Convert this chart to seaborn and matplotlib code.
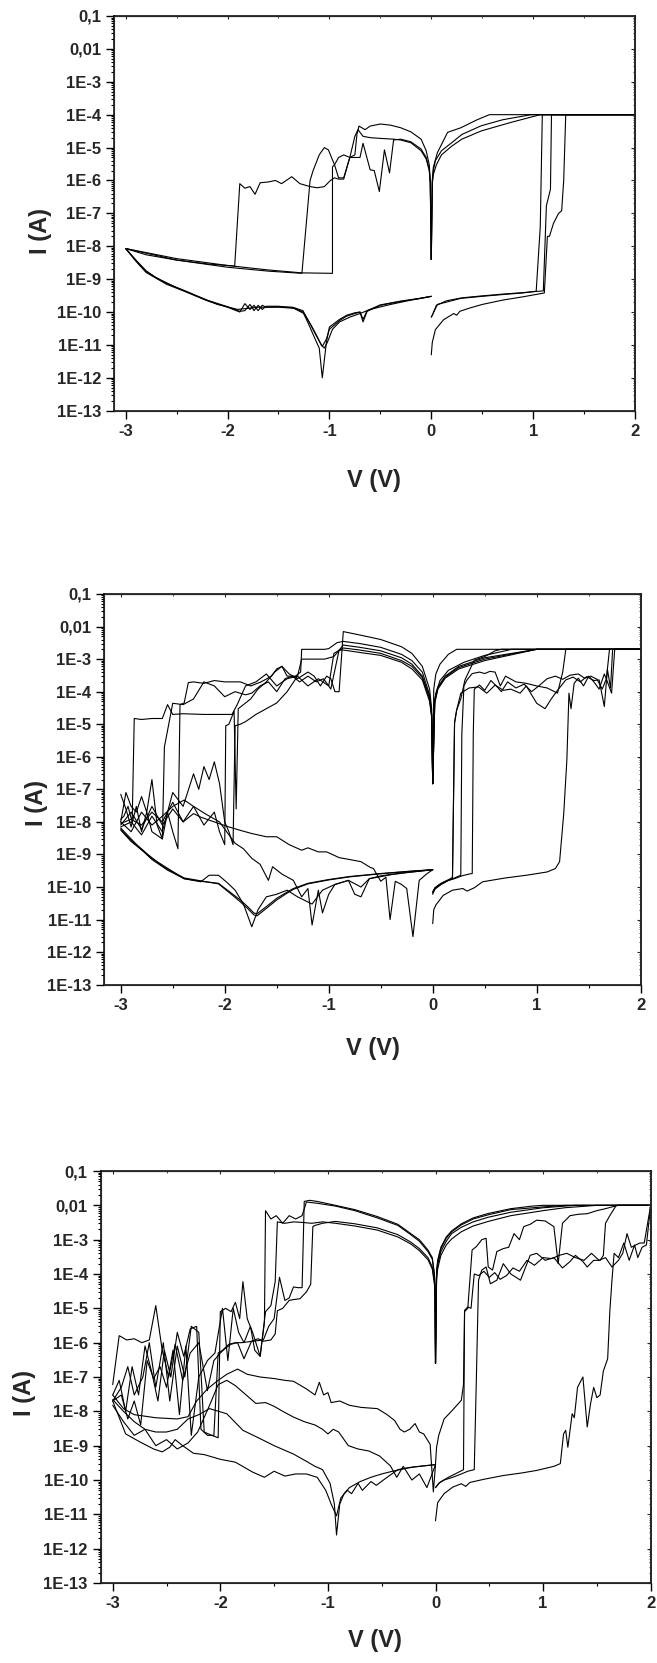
"""Semilog I-V switching sweeps for three devices, stacked vertically."""

import matplotlib
matplotlib.use('Agg')
import matplotlib.pyplot as plt
from matplotlib.ticker import LogLocator, NullFormatter
import seaborn as sns

# ---------------- panel 1 (compliance 1E-4) ----------------
p1_set1_v = [0.0, 0.01, 0.06, 0.29, 0.5, 0.7, 0.9, 1.03, 1.07, 1.09, 1.5, 2.0, 1.5, 1.0, 0.57, 0.45, 0.29, 0.16, 0.06, 0.02, 0.01, 0.0]
p1_set1_i = [7e-11, 8e-11, 1.7e-10, 2.6e-10, 3e-10, 3.4e-10, 3.8e-10, 4.3e-10, 4e-8, 1e-4, 1e-4, 1e-4, 1e-4, 1e-4, 1e-4, 7e-5, 4e-5, 2.9e-5, 7e-6, 2.5e-6, 1e-6, 4e-9]
p1_set2_v = [0.0, 0.01, 0.05, 0.15, 0.3, 0.5, 0.7, 0.9, 1.1, 1.13, 1.17, 1.18, 1.5, 2.0, 1.5, 0.98, 0.7, 0.49, 0.3, 0.2, 0.1, 0.04, 0.02, 0.01, 0.0]
p1_set2_i = [7e-11, 8e-11, 1.6e-10, 2.2e-10, 2.7e-10, 3.1e-10, 3.5e-10, 3.9e-10, 4.4e-10, 1.7e-7, 5.4e-7, 1e-4, 1e-4, 1e-4, 1e-4, 1e-4, 7e-5, 4.6e-5, 2.5e-5, 1.4e-5, 8e-6, 4e-6, 2e-6, 9e-7, 4e-9]
p1_set3_v = [0.0, 0.01, 0.04, 0.12, 0.22, 0.25, 0.28, 0.37, 0.5, 0.7, 0.9, 1.11, 1.14, 1.16, 1.2, 1.25, 1.28, 1.3, 1.32, 1.6, 2.0, 1.5, 1.07, 0.78, 0.49, 0.3, 0.2, 0.1, 0.05, 0.02, 0.01, 0.0]
p1_set3_i = [5e-12, 1.2e-11, 2.9e-11, 5.8e-11, 9e-11, 8e-11, 1.05e-10, 1.3e-10, 1.7e-10, 2.3e-10, 2.9e-10, 3.8e-10, 2e-8, 2e-8, 5e-8, 1e-7, 1.2e-7, 1e-6, 1e-4, 1e-4, 1e-4, 1e-4, 1e-4, 5.8e-5, 3.2e-5, 1.8e-5, 1.1e-5, 6e-6, 3e-6, 1.5e-6, 8e-7, 4e-9]

p1_reset1_v = [0.0, -0.01, -0.02, -0.05, -0.1, -0.2, -0.3, -0.4, -0.5, -0.6, -0.65, -0.71, -0.73, -0.75, -0.8, -0.86, -0.91, -0.95, -0.97, -0.97, -1.27, -1.6, -2.0, -2.5, -3.0]
p1_reset1_i = [4e-9, 1e-6, 3e-6, 8e-6, 1.8e-5, 3e-5, 4e-5, 4.8e-5, 5.2e-5, 4.5e-5, 3.5e-5, 4.5e-5, 2.5e-5, 6e-6, 5e-6, 6e-6, 5e-6, 3e-6, 2.6e-6, 1.5e-9, 1.55e-9, 1.9e-9, 2.6e-9, 4.2e-9, 8.5e-9]
p1_reset2_v = [0.0, -0.01, -0.02, -0.05, -0.1, -0.2, -0.3, -0.37, -0.41, -0.46, -0.51, -0.56, -0.6, -0.67, -0.7, -0.75, -0.8, -0.86, -0.91, -0.95, -1.01, -1.05, -1.1, -1.16, -1.19, -1.27, -1.6, -2.0, -2.5, -3.0]
p1_reset2_i = [4e-9, 9e-7, 2.2e-6, 5e-6, 9e-6, 1.5e-5, 1.8e-5, 1.7e-5, 1.7e-6, 8.5e-6, 4.6e-7, 2e-6, 2.1e-6, 1.35e-5, 5e-6, 5e-6, 5e-6, 1.2e-6, 1.2e-6, 3e-6, 8.5e-6, 1e-5, 6e-6, 2e-6, 1e-6, 1.5e-9, 1.75e-9, 2.3e-9, 3.8e-9, 8.5e-9]
p1_reset3_v = [0.0, -0.01, -0.02, -0.05, -0.1, -0.2, -0.3, -0.37, -0.5, -0.6, -0.67, -0.72, -0.75, -0.8, -0.86, -0.91, -0.95, -0.99, -1.05, -1.12, -1.19, -1.29, -1.37, -1.47, -1.53, -1.6, -1.68, -1.73, -1.78, -1.83, -1.88, -1.93, -2.2, -2.5, -2.8, -3.0]
p1_reset3_i = [4e-9, 8e-7, 2e-6, 4.5e-6, 8e-6, 1.4e-5, 1.7e-5, 1.8e-5, 1.9e-5, 2e-5, 2.2e-5, 3.5e-5, 2.2e-5, 5e-6, 1.1e-6, 1.1e-6, 1.2e-6, 1e-6, 6.5e-7, 6e-7, 6.5e-7, 8e-7, 1.3e-6, 8e-7, 1e-6, 9e-7, 8.5e-7, 3.8e-7, 6.5e-7, 5.8e-7, 8e-7, 2.5e-9, 2.9e-9, 3.8e-9, 5.5e-9, 8.5e-9]

p1_ret_v = [-3.0, -2.9, -2.8, -2.71, -2.6, -2.4, -2.2, -2.0, -1.88, -1.83, -1.78, -1.74, -1.7, -1.66, -1.62, -1.5, -1.36, -1.26, -1.2, -1.14, -1.1, -1.07, -1.03, -1.0, -0.9, -0.83, -0.75, -0.7, -0.67, -0.63, -0.5, -0.3, -0.1, 0.0]
p1_ret1_i = [8.5e-9, 3.5e-9, 1.6e-9, 1.1e-9, 7e-10, 4e-10, 2.2e-10, 1.4e-10, 1e-10, 1.8e-10, 1.2e-10, 1.6e-10, 1.1e-10, 1.6e-10, 1.4e-10, 1.45e-10, 1.4e-10, 1.1e-10, 5e-11, 2.2e-11, 1.3e-11, 9e-12, 1.5e-11, 3e-11, 5.5e-11, 7.5e-11, 9e-11, 1e-10, 5e-11, 1.05e-10, 1.6e-10, 2.1e-10, 2.6e-10, 3e-10]
p1_ret2_i = [8.5e-9, 3.7e-9, 1.7e-9, 1.15e-9, 7.5e-10, 4.2e-10, 2.3e-10, 1.45e-10, 1.05e-10, 1.1e-10, 1.7e-10, 1.1e-10, 1.6e-10, 1.2e-10, 1.5e-10, 1.5e-10, 1.35e-10, 1e-10, 4e-11, 1.5e-11, 8e-12, 1e-12, 1.2e-11, 3.5e-11, 6e-11, 8e-11, 9.5e-11, 1e-10, 6e-11, 1.1e-10, 1.65e-10, 2.15e-10, 2.65e-10, 3e-10]
p1_ret3_v = [-3.0, -2.9, -2.8, -2.7, -2.5, -2.3, -2.1, -1.9, -1.7, -1.5, -1.35, -1.25, -1.18, -1.12, -1.08, -1.05, -1.02, -0.97, -0.9, -0.8, -0.7, -0.6, -0.4, -0.2, 0.0]
p1_ret3_i = [8.5e-9, 3.8e-9, 1.8e-9, 1.1e-9, 5.5e-10, 3e-10, 1.7e-10, 1.2e-10, 1.4e-10, 1.4e-10, 1.3e-10, 9e-11, 4e-11, 1.8e-11, 1e-11, 8e-12, 1.2e-11, 3e-11, 5e-11, 7e-11, 9e-11, 1.2e-10, 1.7e-10, 2.3e-10, 3e-10]

# ---------------- panel 2 (compliance 2E-3) ----------------
p2_set1_v = [0.0, 0.01, 0.03, 0.1, 0.19, 0.29, 0.33, 0.4, 0.48, 0.7, 0.9, 1.1, 1.18, 1.22, 1.26, 1.29, 1.31, 1.33, 1.36, 1.4, 1.45, 1.5, 1.55, 1.6, 1.65, 1.68, 1.72, 1.75, 2.0, 1.5, 1.0, 0.76, 0.5, 0.3, 0.15, 0.07, 0.03, 0.01, 0.0]
p2_set1_i = [7.5e-12, 2e-11, 2.8e-11, 5.5e-11, 8e-11, 9e-11, 7.5e-11, 9.5e-11, 1.45e-10, 1.9e-10, 2.3e-10, 2.9e-10, 3.7e-10, 6e-10, 1.8e-8, 8e-7, 9e-5, 3e-5, 1.8e-4, 2.6e-4, 1.5e-4, 3e-4, 2e-4, 1.2e-4, 3.5e-4, 2e-4, 9e-5, 2e-3, 2e-3, 2e-3, 2e-3, 2e-3, 1.3e-3, 8e-4, 4.5e-4, 2.2e-4, 9e-5, 3e-5, 1.5e-7]
p2_set2_v = [0.0, 0.01, 0.05, 0.1, 0.17, 0.19, 0.21, 0.23, 0.27, 0.31, 0.4, 0.5, 0.6, 0.66, 1.0, 2.0, 1.0, 0.5, 0.23, 0.15, 0.07, 0.03, 0.01, 0.0]
p2_set2_i = [7e-11, 8e-11, 1.1e-10, 1.4e-10, 1.8e-10, 2e-10, 1.1e-5, 2.7e-5, 6e-5, 2.3e-4, 9.3e-4, 1.2e-3, 1.8e-3, 2e-3, 2e-3, 2e-3, 2e-3, 2e-3, 2e-3, 1.4e-3, 7e-4, 3.5e-4, 1.2e-4, 1.5e-7]
p2_set3_v = [0.0, 0.02, 0.08, 0.15, 0.19, 0.21, 0.23, 0.27, 0.35, 0.44, 0.52, 0.6, 0.68, 0.75, 0.84, 0.9, 1.0, 1.08, 1.14, 1.2, 1.28, 1.35, 1.42, 1.48, 1.55, 1.6, 1.65, 1.68, 1.71, 1.73, 2.0, 1.0, 0.5, 0.25, 0.12, 0.05, 0.02, 0.0]
p2_set3_i = [6.5e-11, 9e-11, 1.2e-10, 1.6e-10, 1.8e-10, 1.1e-5, 2.7e-5, 9e-5, 1.3e-4, 1.4e-4, 9e-5, 1.6e-4, 1.1e-4, 1.2e-4, 9e-5, 1.5e-4, 4.4e-5, 3e-5, 6e-5, 1.1e-4, 2.3e-4, 2.8e-4, 2e-4, 2.9e-4, 2.2e-4, 2.3e-4, 3.5e-5, 4.8e-4, 1.3e-4, 2e-3, 2e-3, 2e-3, 1.1e-3, 6e-4, 3e-4, 1.4e-4, 6e-5, 1.5e-7]
p2_set4_v = [0.0, 0.02, 0.08, 0.15, 0.21, 0.27, 0.28, 0.3, 0.33, 0.38, 0.45, 0.5, 0.55, 0.6, 0.65, 0.7, 0.8, 0.9, 1.0, 1.1, 1.2, 1.25, 1.28, 2.0, 1.0, 0.5, 0.25, 0.12, 0.05, 0.02, 0.0]
p2_set4_i = [7e-11, 9.5e-11, 1.3e-10, 1.6e-10, 1.9e-10, 2.3e-10, 5e-6, 1.5e-4, 2.3e-4, 3.6e-4, 4e-4, 3.6e-4, 4.2e-4, 4e-4, 1.5e-4, 3e-4, 2e-4, 1.8e-4, 1.5e-4, 1.3e-4, 9e-5, 4e-4, 2e-3, 2e-3, 2e-3, 1e-3, 5.5e-4, 2.8e-4, 1.3e-4, 5e-5, 1.5e-7]
p2_set5_v = [0.0, 0.02, 0.08, 0.15, 0.21, 0.28, 0.35, 0.38, 0.39, 0.4, 0.45, 0.5, 0.56, 0.62, 0.66, 0.72, 0.8, 0.88, 0.95, 1.02, 1.1, 1.18, 1.25, 1.32, 1.4, 1.46, 1.52, 1.58, 1.63, 1.67, 1.7, 2.0, 1.0, 0.5, 0.25, 0.12, 0.05, 0.02, 0.0]
p2_set5_i = [6e-11, 8.5e-11, 1.2e-10, 1.6e-10, 1.8e-10, 2.2e-10, 2.5e-10, 2.6e-10, 5e-6, 1.2e-4, 1.6e-4, 1.1e-4, 2.2e-4, 1.4e-4, 1e-4, 2e-4, 1.3e-4, 1.7e-4, 1e-4, 1.5e-4, 2.5e-4, 3e-4, 2.4e-4, 3.2e-4, 3.5e-4, 2.6e-4, 3e-4, 2.4e-4, 1.2e-4, 2.5e-4, 2e-3, 2e-3, 2e-3, 9e-4, 5e-4, 2.6e-4, 1.2e-4, 4.5e-5, 1.5e-7]

p2_reset1_v = [0.0, -0.01, -0.03, -0.1, -0.2, -0.3, -0.5, -0.7, -0.86, -0.9, -0.94, -0.98, -1.02, -1.08, -1.14, -1.2, -1.3, -1.38, -1.45, -1.52, -1.6, -1.68, -1.75, -1.82, -1.87, -1.89, -1.91, -1.96, -1.99, -2.0, -2.05, -2.1, -2.2, -2.3, -2.4, -2.5, -2.6, -2.7, -2.8, -2.9, -3.0]
p2_reset1_i = [1.5e-7, 3e-5, 1.2e-4, 6e-4, 1.5e-3, 2.4e-3, 4e-3, 5.5e-3, 7e-3, 1e-4, 1e-4, 2.5e-4, 3e-4, 1.5e-4, 3e-4, 4e-4, 2.5e-4, 3.5e-4, 6e-4, 4e-4, 2e-4, 1.2e-4, 6e-5, 4e-5, 3e-5, 2.5e-8, 2.5e-5, 1e-5, 9e-6, 2e-9, 5e-9, 2e-8, 8e-9, 3e-8, 1e-8, 4e-8, 1e-8, 2e-8, 8e-9, 1.2e-8, 9e-9]
p2_reset2_v = [0.0, -0.01, -0.03, -0.1, -0.2, -0.3, -0.5, -0.7, -0.86, -0.92, -1.0, -1.04, -1.15, -1.26, -1.27, -1.32, -1.4, -1.45, -1.5, -1.55, -1.65, -1.75, -1.85, -1.88, -2.0, -2.1, -2.2, -2.3, -2.35, -2.39, -2.43, -2.45, -2.5, -2.55, -2.6, -2.7, -2.8, -2.9, -3.0]
p2_reset2_i = [1.5e-7, 2e-5, 8e-5, 4e-4, 9e-4, 1.4e-3, 2.3e-3, 3e-3, 3.5e-3, 3.2e-3, 2.1e-3, 2e-3, 2e-3, 2e-3, 4e-4, 3e-4, 3e-4, 6e-4, 5e-4, 3e-4, 2e-4, 1.5e-4, 2e-4, 2e-4, 2e-4, 2.2e-4, 1.8e-4, 2e-4, 1.9e-4, 4.5e-5, 4e-5, 1.5e-9, 5e-9, 2e-8, 5e-9, 1.5e-8, 4e-9, 1e-8, 7e-9]
p2_reset3_v = [0.0, -0.01, -0.03, -0.1, -0.2, -0.3, -0.5, -0.7, -0.86, -0.95, -1.04, -1.26, -1.3, -1.4, -1.5, -1.6, -1.7, -1.8, -1.88, -1.93, -2.0, -2.2, -2.4, -2.5, -2.55, -2.6, -2.7, -2.8, -2.87, -2.89, -2.93, -2.97, -3.0]
p2_reset3_i = [1.5e-7, 2e-5, 7e-5, 3e-4, 7e-4, 1.1e-3, 1.8e-3, 2.3e-3, 2.7e-3, 1.2e-3, 1e-3, 1e-3, 3e-4, 2.5e-4, 1.5e-4, 3.5e-4, 2e-4, 1.5e-4, 4e-5, 2e-5, 2e-5, 2e-5, 2.1e-5, 2e-5, 4e-5, 1.5e-5, 1.5e-5, 1.4e-5, 1.5e-5, 1e-8, 3e-8, 1.5e-8, 1.2e-8]
p2_reset4_v = [0.0, -0.01, -0.03, -0.1, -0.2, -0.3, -0.5, -0.7, -0.86, -0.95, -1.0, -1.05, -1.12, -1.2, -1.28, -1.35, -1.42, -1.5, -1.58, -1.66, -1.74, -1.8, -1.9, -2.0, -2.1, -2.2, -2.3, -2.4, -2.5, -2.58, -2.6, -2.65, -2.7, -2.75, -2.8, -2.85, -2.9, -2.95, -3.0]
p2_reset4_i = [1.5e-7, 1.8e-5, 6e-5, 2.7e-4, 6e-4, 9e-4, 1.5e-3, 1.9e-3, 2.2e-3, 1.5e-3, 1.5e-4, 2.5e-4, 2e-4, 3e-4, 2e-4, 3e-4, 2.5e-4, 1e-4, 2e-4, 1.5e-4, 9e-5, 8e-5, 1e-4, 7e-5, 1.5e-4, 2e-4, 6e-5, 4e-5, 4.4e-5, 2e-6, 3e-9, 8e-9, 2e-7, 2e-8, 6e-8, 2e-8, 3e-8, 8e-8, 1e-8]
p2_reset5_v = [0.0, -0.01, -0.03, -0.1, -0.2, -0.3, -0.5, -0.7, -0.86, -0.9, -0.98, -1.0, -1.1, -1.2, -1.3, -1.4, -1.5, -1.6, -1.7, -1.8, -1.85, -1.9, -1.92, -1.96, -2.0, -2.05, -2.1, -2.15, -2.2, -2.25, -2.3, -2.4, -2.5, -2.55, -2.6, -2.7, -2.75, -2.8, -2.85, -2.9, -2.95, -3.0]
p2_reset5_i = [1.5e-7, 1.6e-5, 5e-5, 2.3e-4, 5e-4, 8e-4, 1.3e-3, 1.6e-3, 1.9e-3, 1.9e-3, 1.2e-4, 1.5e-4, 2.5e-4, 1.5e-4, 3e-4, 1e-4, 4.5e-5, 3e-5, 2e-5, 1.2e-5, 1e-5, 9e-6, 2e-9, 5e-9, 1e-8, 1.5e-7, 7e-7, 2e-7, 5e-7, 1e-7, 3e-7, 3e-8, 8e-8, 2e-8, 3e-9, 5e-9, 2e-8, 5e-9, 3e-8, 7e-9, 2.5e-8, 7e-8]

p2_ret_v = [-3.0, -2.9, -2.79, -2.7, -2.55, -2.39, -2.23, -2.06, -1.95, -1.85, -1.78, -1.72, -1.69, -1.6, -1.5, -1.4, -1.34, -1.2, -1.0, -0.8, -0.5, -0.2, 0.0]
p2_ret1_i = [5.6e-9, 2.5e-9, 1.3e-9, 7e-10, 3.3e-10, 1.8e-10, 1.5e-10, 1.3e-10, 7e-11, 4e-11, 2.5e-11, 1.6e-11, 1.5e-11, 2.5e-11, 4.5e-11, 7e-11, 9e-11, 1.3e-10, 1.7e-10, 2.1e-10, 2.6e-10, 3.1e-10, 3.4e-10]
p2_ret2_i = [6e-9, 2.7e-9, 1.4e-9, 7.5e-10, 3.5e-10, 1.9e-10, 1.55e-10, 1.25e-10, 6.5e-11, 3.5e-11, 2.2e-11, 1.4e-11, 1.3e-11, 2.2e-11, 4e-11, 6.5e-11, 8.5e-11, 1.25e-10, 1.65e-10, 2.05e-10, 2.55e-10, 3.05e-10, 3.4e-10]
p2_ret3_v = [-3.0, -2.9, -2.8, -2.65, -2.5, -2.39, -2.23, -2.15, -2.06, -1.98, -1.9, -1.82, -1.74, -1.68, -1.6, -1.5, -1.4, -1.3, -1.16, -1.06, -0.94, -0.81, -0.69, -0.61, -0.5, -0.3, -0.15, 0.0]
p2_ret3_i = [6.5e-9, 3e-9, 1.4e-9, 6e-10, 3e-10, 1.8e-10, 1.45e-10, 2.3e-10, 2.3e-10, 1.4e-10, 8e-11, 3e-11, 6e-12, 2e-11, 5e-11, 6e-11, 8e-11, 5e-11, 3e-11, 8e-11, 1.2e-10, 1.6e-10, 1e-10, 1.8e-10, 2.2e-10, 2.7e-10, 3e-10, 3.4e-10]
p2_ret4_v = [-3.0, -2.9, -2.8, -2.7, -2.6, -2.5, -2.4, -2.3, -2.23, -2.1, -1.96, -1.85, -1.74, -1.6, -1.5, -1.38, -1.26, -1.2, -1.1, -1.02, -0.9, -0.8, -0.69, -0.6, -0.57, -0.5, -0.45, -0.41, -0.36, -0.3, -0.25, -0.19, -0.13, -0.06, 0.0]
p2_ret4_i = [8e-9, 2e-8, 6e-9, 3e-8, 8e-9, 2.5e-8, 1e-8, 1.8e-8, 1.4e-8, 1e-8, 7e-9, 5.5e-9, 4.4e-9, 3.5e-9, 3.5e-9, 2e-9, 1.35e-9, 1.6e-9, 1.2e-9, 1.2e-9, 8e-10, 7e-10, 6e-10, 4e-10, 3.7e-10, 1.5e-10, 2e-10, 1e-11, 1.5e-10, 1.2e-10, 9e-11, 3e-12, 1.6e-10, 2.5e-10, 3.4e-10]
p2_ret5_v = [-3.0, -2.9, -2.8, -2.7, -2.6, -2.5, -2.39, -2.3, -2.19, -2.05, -1.9, -1.82, -1.74, -1.66, -1.58, -1.54, -1.45, -1.34, -1.26, -1.2, -1.16, -1.1, -1.06, -1.0, -0.94, -0.81, -0.75, -0.69, -0.61, -0.53, -0.4, -0.2, 0.0]
p2_ret5_i = [1e-8, 5e-9, 2e-8, 8e-9, 1.5e-8, 3e-8, 4.7e-8, 3e-8, 1.8e-8, 1e-8, 2.2e-9, 1.5e-9, 7.6e-10, 5e-10, 1.6e-10, 4.2e-10, 2.5e-10, 1.6e-10, 5e-11, 9e-11, 6.8e-12, 8e-11, 1.6e-11, 6e-11, 1.2e-10, 1.6e-10, 6e-11, 5e-11, 1.8e-10, 2e-10, 2.4e-10, 2.9e-10, 3.4e-10]

# ---------------- panel 3 (compliance 0,01) ----------------
p3_set1_v = [0.0, 0.02, 0.08, 0.16, 0.24, 0.28, 0.32, 0.45, 0.63, 0.8, 0.94, 1.1, 1.16, 1.19, 1.21, 1.23, 1.27, 1.29, 1.32, 1.37, 1.41, 1.44, 1.47, 1.5, 1.53, 1.56, 1.6, 1.62, 1.64, 1.66, 1.7, 1.75, 1.8, 1.85, 1.88, 1.92, 1.96, 2.0, 1.5, 1.2, 1.0, 0.7, 0.49, 0.35, 0.24, 0.15, 0.1, 0.05, 0.02, 0.01, 0.0]
p3_set1_i = [6.5e-12, 2.2e-11, 4e-11, 6.2e-11, 7.8e-11, 6.5e-11, 8.5e-11, 1.05e-10, 1.35e-10, 1.6e-10, 1.9e-10, 2.5e-10, 3e-10, 2.2e-9, 2.8e-9, 9e-10, 8.5e-9, 6.5e-9, 5e-8, 1e-7, 3.5e-9, 1.6e-8, 5e-8, 2.5e-8, 3e-8, 1.5e-7, 3.4e-7, 8e-6, 6.6e-5, 4e-4, 3e-4, 8e-4, 2.5e-4, 7e-4, 3e-4, 6e-4, 7e-4, 1e-2, 1e-2, 8.5e-3, 7e-3, 5e-3, 3.4e-3, 2.5e-3, 1.7e-3, 1.05e-3, 7e-4, 3.5e-4, 1.4e-4, 7e-5, 2.5e-7]
p3_set2_v = [0.0, 0.01, 0.03, 0.08, 0.16, 0.24, 0.26, 0.27, 0.3, 0.34, 0.38, 0.43, 0.47, 0.49, 0.53, 0.57, 0.63, 0.68, 0.73, 0.78, 0.82, 0.88, 0.94, 1.02, 1.1, 1.14, 1.18, 1.25, 1.33, 1.41, 1.5, 1.58, 1.64, 1.7, 2.0, 1.0, 0.9, 0.7, 0.49, 0.35, 0.24, 0.15, 0.1, 0.05, 0.02, 0.01, 0.0]
p3_set2_i = [3e-10, 9e-10, 2e-9, 6e-9, 1.1e-8, 2.1e-8, 6e-8, 8e-6, 1e-5, 5e-4, 6.3e-4, 1e-3, 1.1e-3, 1.6e-4, 1.3e-4, 4.5e-4, 5.5e-4, 6e-4, 1.5e-3, 1e-3, 2.4e-3, 2.8e-3, 3.7e-3, 3.5e-3, 2.4e-3, 2e-4, 3e-3, 5e-3, 5.5e-3, 5.7e-3, 7e-3, 8e-3, 9e-3, 1e-2, 1e-2, 1e-2, 9.5e-3, 8e-3, 5.8e-3, 4.3e-3, 2.9e-3, 1.8e-3, 1.2e-3, 6e-4, 2.5e-4, 1.2e-4, 2.5e-7]
p3_set3_v = [0.0, 0.03, 0.08, 0.16, 0.24, 0.3, 0.36, 0.38, 0.4, 0.43, 0.47, 0.51, 0.57, 0.63, 0.7, 0.79, 0.88, 0.94, 1.02, 1.1, 1.18, 1.25, 1.3, 1.37, 1.41, 1.47, 1.53, 1.56, 1.58, 1.62, 1.68, 2.0, 1.2, 1.0, 0.7, 0.49, 0.35, 0.24, 0.15, 0.1, 0.05, 0.02, 0.01, 0.0]
p3_set3_i = [6e-11, 8e-11, 1e-10, 1.2e-10, 1.5e-10, 1.8e-10, 2e-10, 1e-7, 6.6e-5, 1.3e-4, 1.6e-4, 5.2e-5, 6.6e-5, 2e-4, 1e-4, 6.6e-5, 3.5e-4, 4e-4, 2.5e-4, 3e-4, 1.5e-4, 2.3e-4, 3.5e-4, 2.3e-4, 1.6e-4, 2.5e-4, 2.5e-4, 3.5e-4, 3e-3, 5e-3, 1e-2, 1e-2, 1e-2, 9e-3, 7.5e-3, 5.3e-3, 4e-3, 2.7e-3, 1.7e-3, 1.1e-3, 5.5e-4, 2.2e-4, 1.1e-4, 2.5e-7]
p3_set4_v = [0.0, 0.04, 0.12, 0.2, 0.26, 0.27, 0.3, 0.33, 0.36, 0.4, 0.45, 0.5, 0.55, 0.6, 0.66, 0.72, 0.78, 0.85, 0.92, 1.0, 1.08, 1.15, 1.22, 1.3, 1.38, 1.45, 1.52, 1.58, 1.64, 1.7, 1.74, 1.78, 1.82, 1.86, 1.9, 1.94, 2.0, 1.3, 1.0, 0.7, 0.49, 0.35, 0.24, 0.15, 0.1, 0.05, 0.02, 0.01, 0.0]
p3_set4_i = [6e-11, 8.5e-11, 1.2e-10, 1.6e-10, 2e-10, 8.7e-6, 1.1e-5, 1e-5, 1e-4, 9e-5, 1.2e-4, 8e-5, 1.1e-4, 7e-5, 9e-5, 1.5e-4, 1.2e-4, 2.5e-4, 1.8e-4, 3e-4, 2.8e-4, 3.5e-4, 4e-4, 3e-4, 2.5e-4, 4e-4, 2.5e-4, 3e-4, 1.6e-4, 2.5e-4, 4e-4, 1.5e-3, 6e-4, 7e-4, 8e-4, 8e-4, 1e-2, 1e-2, 8.5e-3, 6.3e-3, 4.5e-3, 3.3e-3, 2.3e-3, 1.5e-3, 9e-4, 4.5e-4, 1.8e-4, 9e-5, 2.5e-7]

p3_reset1_v = [0.0, -0.005, -0.01, -0.03, -0.07, -0.15, -0.23, -0.35, -0.54, -0.75, -0.93, -1.1, -1.17, -1.22, -1.24, -1.28, -1.32, -1.36, -1.4, -1.45, -1.5, -1.55, -1.6, -1.7, -1.8, -1.86, -1.92, -1.98, -2.02, -2.06, -2.12, -2.18, -2.22, -2.28, -2.34, -2.4, -2.46, -2.52, -2.58, -2.64, -2.7, -2.76, -2.82, -2.88, -2.94, -3.0]
p3_reset1_i = [2.5e-7, 5e-5, 1e-4, 3e-4, 5e-4, 1e-3, 1.5e-3, 2.8e-3, 4.7e-3, 7.5e-3, 1e-2, 1.3e-2, 1.4e-2, 1.3e-2, 4e-5, 4e-5, 4.2e-5, 2e-5, 1.7e-5, 8e-5, 5e-6, 3e-6, 1.2e-6, 1.1e-6, 1e-6, 1e-6, 9e-7, 6e-7, 5e-7, 2e-9, 2e-9, 3e-9, 3e-6, 2.5e-6, 4e-7, 2e-6, 1e-7, 6e-7, 2e-8, 1.5e-7, 8e-7, 3e-8, 2e-7, 1e-8, 8e-8, 3e-8]
p3_reset2_v = [0.0, -0.005, -0.01, -0.03, -0.07, -0.15, -0.23, -0.35, -0.54, -0.75, -0.93, -1.1, -1.2, -1.24, -1.3, -1.36, -1.42, -1.48, -1.53, -1.58, -1.59, -1.63, -1.7, -1.75, -1.79, -1.82, -1.86, -1.9, -1.95, -2.0, -2.02, -2.08, -2.15, -2.2, -2.27, -2.33, -2.4, -2.47, -2.53, -2.6, -2.66, -2.72, -2.8, -2.86, -2.92, -3.0]
p3_reset2_i = [2.5e-7, 4.5e-5, 9e-5, 2.7e-4, 4.5e-4, 9e-4, 1.4e-3, 2.6e-3, 4.3e-3, 7e-3, 9.5e-3, 1.15e-2, 1.25e-2, 5e-3, 4e-3, 5e-3, 3e-3, 5e-3, 4e-3, 7e-3, 4e-6, 4e-7, 2e-6, 5e-6, 6e-5, 5e-6, 1.5e-5, 8e-6, 1e-5, 8e-6, 1.7e-9, 2e-9, 2.5e-9, 2e-6, 3e-6, 1e-7, 8e-7, 2e-8, 1e-6, 5e-8, 1e-6, 1e-7, 3e-8, 2e-7, 5e-8, 2e-8]
p3_reset3_v = [0.0, -0.005, -0.01, -0.03, -0.07, -0.15, -0.23, -0.35, -0.54, -0.75, -0.93, -1.05, -1.12, -1.14, -1.16, -1.2, -1.26, -1.32, -1.36, -1.42, -1.47, -1.49, -1.53, -1.6, -1.65, -1.71, -1.78, -1.84, -1.9, -1.95, -2.0, -2.06, -2.12, -2.2, -2.28, -2.35, -2.42, -2.48, -2.54, -2.6, -2.66, -2.73, -2.8, -2.87, -2.94, -3.0]
p3_reset3_i = [2.5e-7, 3e-5, 6e-5, 1.6e-4, 3e-4, 5.5e-4, 8.5e-4, 1.4e-3, 2.2e-3, 2.9e-3, 3.4e-3, 3e-3, 2.6e-3, 2.4e-3, 5e-5, 3e-5, 1.9e-5, 1.8e-5, 1.7e-5, 1e-5, 8.5e-6, 1.8e-6, 1.2e-6, 1.1e-6, 1.3e-6, 1.1e-6, 3.4e-7, 1e-6, 9e-7, 7e-7, 5e-7, 3e-7, 4e-8, 1e-6, 5e-7, 8e-8, 9e-7, 1e-7, 6e-7, 1.2e-5, 1.2e-6, 1e-6, 1.3e-6, 1.2e-6, 1.6e-6, 6e-8]
p3_reset4_v = [0.0, -0.005, -0.01, -0.03, -0.07, -0.15, -0.23, -0.35, -0.54, -0.75, -0.93, -1.05, -1.15, -1.25, -1.32, -1.4, -1.47, -1.49, -1.53, -1.58, -1.63, -1.68, -1.72, -1.78, -1.83, -1.88, -1.93, -1.98, -2.05, -2.12, -2.2, -2.27, -2.32, -2.38, -2.44, -2.5, -2.56, -2.62, -2.68, -2.74, -2.8, -2.86, -2.92, -3.0]
p3_reset4_i = [2.5e-7, 2.5e-5, 5e-5, 1.4e-4, 2.6e-4, 4.8e-4, 7.5e-4, 1.2e-3, 1.9e-3, 2.5e-3, 3e-3, 3.3e-3, 3e-3, 3.2e-3, 3.3e-3, 3e-3, 3.3e-3, 6e-5, 1.2e-5, 8e-6, 4e-7, 6e-7, 3e-6, 1e-6, 2e-6, 1e-5, 3e-7, 1e-5, 5e-7, 3e-7, 1e-7, 2e-9, 8e-7, 8e-9, 6e-7, 5e-8, 2e-7, 9e-8, 3e-7, 4e-9, 2e-8, 6e-9, 3e-8, 2e-8]

p3_ret1_v = [-3.0, -2.95, -2.88, -2.75, -2.62, -2.54, -2.47, -2.42, -2.35, -2.25, -2.15, -2.0, -1.86, -1.7, -1.59, -1.5, -1.4, -1.3, -1.2, -1.1, -1.02, -0.97, -0.92, -0.88, -0.82, -0.78, -0.72, -0.68, -0.6, -0.55, -0.45, -0.35, -0.25, -0.1, 0.0]
p3_ret1_i = [2e-8, 8e-9, 2.2e-9, 1.3e-9, 8e-10, 6.6e-10, 9e-10, 1.5e-9, 1e-9, 6e-10, 5.5e-10, 4e-10, 3.3e-10, 1.7e-10, 1.2e-10, 1.8e-10, 1.3e-10, 1.5e-10, 1.5e-10, 1.2e-10, 5e-11, 2e-11, 9e-12, 3e-11, 5e-11, 4e-11, 8e-11, 5e-11, 9e-11, 7e-11, 1.2e-10, 2e-10, 2.3e-10, 2.6e-10, 2.8e-10]
p3_ret2_v = [-3.0, -2.9, -2.8, -2.7, -2.6, -2.5, -2.4, -2.3, -2.2, -2.1, -1.94, -1.79, -1.63, -1.5, -1.32, -1.2, -1.12, -1.05, -0.98, -0.94, -0.92, -0.89, -0.85, -0.8, -0.7, -0.6, -0.5, -0.4, -0.3, -0.2, -0.1, 0.0]
p3_ret2_i = [2.2e-8, 1e-8, 5e-9, 3e-9, 2.5e-9, 2.5e-9, 3e-9, 6e-9, 8e-9, 1.2e-8, 8.5e-9, 2.8e-9, 1.6e-9, 1e-9, 5.7e-10, 3.5e-10, 2.5e-10, 2e-10, 8e-11, 2e-11, 2.5e-12, 2e-11, 4e-11, 6e-11, 9e-11, 1.2e-10, 1.5e-10, 1.8e-10, 2.1e-10, 2.4e-10, 2.6e-10, 2.8e-10]
p3_ret3_v = [-3.0, -2.9, -2.8, -2.6, -2.4, -2.3, -2.22, -2.12, -2.02, -1.94, -1.84, -1.75, -1.63, -1.5, -1.4, -1.32, -1.2, -1.12, -1.08, -1.04, -1.0, -0.97, -0.89, -0.8, -0.69, -0.54, -0.45, -0.38, -0.33, -0.29, -0.24, -0.19, -0.15, -0.11, -0.05, -0.02, 0.0]
p3_ret3_i = [3e-8, 1.2e-8, 8e-9, 6.5e-9, 6e-9, 7e-9, 2e-8, 4.5e-8, 8e-8, 1.2e-7, 1.7e-7, 1.2e-7, 1e-7, 9e-8, 8e-8, 7.5e-8, 4.5e-8, 3e-8, 7e-8, 3e-8, 3.5e-8, 1.8e-8, 2e-8, 1.5e-8, 1.3e-8, 1.2e-8, 8e-9, 5.4e-9, 3e-9, 2.5e-9, 3e-9, 4.4e-9, 2.5e-9, 2.2e-9, 1.1e-9, 4.5e-11, 2.8e-10]
p3_ret4_v = [-3.0, -2.9, -2.8, -2.7, -2.6, -2.5, -2.4, -2.3, -2.21, -2.1, -2.02, -1.94, -1.86, -1.76, -1.67, -1.58, -1.5, -1.42, -1.32, -1.22, -1.12, -1.05, -1.0, -0.95, -0.9, -0.81, -0.72, -0.62, -0.52, -0.42, -0.36, -0.3, -0.22, -0.15, -0.08, 0.0]
p3_ret4_i = [1.5e-8, 5e-9, 2e-9, 3e-9, 1e-9, 1.5e-9, 8e-10, 1.2e-9, 2.5e-9, 1.5e-8, 6e-8, 8e-8, 5.6e-8, 3e-8, 1.7e-8, 1.8e-8, 1.4e-8, 1e-8, 6.8e-9, 5e-9, 4e-9, 3e-9, 2.2e-9, 3e-9, 2.5e-9, 1e-9, 8e-10, 7e-10, 5e-10, 2.6e-10, 1.2e-10, 2.5e-10, 1e-10, 1.5e-10, 6e-11, 2.8e-10]

# ---------------- axes text ----------------
x_ticks = [-3, -2, -1, 0, 1, 2]
x_tick_labels = ['-3', '-2', '-1', '0', '1', '2']
x_minor_ticks = [-2.5, -1.5, -0.5, 0.5, 1.5]
y_ticks = [1e-13, 1e-12, 1e-11, 1e-10, 1e-9, 1e-8, 1e-7, 1e-6, 1e-5, 1e-4, 1e-3, 1e-2, 1e-1]
y_tick_labels = ['1E-13', '1E-12', '1E-11', '1E-10', '1E-9', '1E-8', '1E-7', '1E-6',
                 '1E-5', '1E-4', '1E-3', '0,01', '0,1']
x_label = 'V (V)'
y_label = 'I (A)'

W, H = 657, 1663  # output size in pixels

# curves, axes box (px: left, top, right, bottom), left x limit, y-label centre, x-label centre
panels = [
    ([(p1_set1_v, p1_set1_i), (p1_set2_v, p1_set2_i), (p1_set3_v, p1_set3_i),
      (p1_reset1_v, p1_reset1_i), (p1_reset2_v, p1_reset2_i), (p1_reset3_v, p1_reset3_i),
      (p1_ret_v, p1_ret1_i), (p1_ret_v, p1_ret2_i), (p1_ret3_v, p1_ret3_i)],
     (114.3, 16.0, 635.0, 410.7), -3.112, (40, 231), (374, 480)),
    ([(p2_set1_v, p2_set1_i), (p2_set2_v, p2_set2_i), (p2_set3_v, p2_set3_i),
      (p2_set4_v, p2_set4_i), (p2_set5_v, p2_set5_i),
      (p2_reset1_v, p2_reset1_i), (p2_reset2_v, p2_reset2_i), (p2_reset3_v, p2_reset3_i),
      (p2_reset4_v, p2_reset4_i), (p2_reset5_v, p2_reset5_i),
      (p2_ret_v, p2_ret1_i), (p2_ret_v, p2_ret2_i), (p2_ret3_v, p2_ret3_i),
      (p2_ret4_v, p2_ret4_i), (p2_ret5_v, p2_ret5_i)],
     (104.3, 594.0, 640.7, 984.7), -3.158, (36, 803), (373, 1048)),
    ([(p3_set1_v, p3_set1_i), (p3_set2_v, p3_set2_i), (p3_set3_v, p3_set3_i),
      (p3_set4_v, p3_set4_i),
      (p3_reset1_v, p3_reset1_i), (p3_reset2_v, p3_reset2_i), (p3_reset3_v, p3_reset3_i),
      (p3_reset4_v, p3_reset4_i),
      (p3_ret1_v, p3_ret1_i), (p3_ret2_v, p3_ret2_i), (p3_ret3_v, p3_ret3_i),
      (p3_ret4_v, p3_ret4_i)],
     (101.0, 1171.0, 650.7, 1583.0), -3.109, (25, 1393), (375, 1640)),
]

sns.set_style('ticks')
plt.rcParams['font.family'] = ['Liberation Sans', 'DejaVu Sans']
plt.rcParams['font.weight'] = 'bold'

fig = plt.figure(figsize=(W / 100, H / 100), dpi=100)

for curves, (x0, y0, x1, y1), xmin, ylab_at, xlab_at in panels:
    ax = fig.add_axes([x0 / W, 1 - y1 / H, (x1 - x0) / W, (y1 - y0) / H])
    ax.set_yscale('log')
    for v, cur in curves:
        assert len(v) == len(cur), (len(v), len(cur))
        sns.lineplot(x=v, y=cur, sort=False, estimator=None, color='black',
                     linewidth=0.8, ax=ax)
    ax.set_xlim(xmin, 2.0)
    ax.set_ylim(1e-13, 0.1)
    ax.set_xticks(x_ticks)
    ax.set_xticklabels(x_tick_labels)
    ax.set_xticks(x_minor_ticks, minor=True)
    ax.set_yticks(y_ticks)
    ax.set_yticklabels(y_tick_labels)
    ax.yaxis.set_minor_locator(LogLocator(base=10, subs=range(2, 10), numticks=100))
    ax.yaxis.set_minor_formatter(NullFormatter())
    ax.tick_params(which='major', direction='out', length=5.5, width=1.0,
                   labelsize=12, pad=4, color='black')
    ax.tick_params(which='minor', direction='out', length=2.3, width=0.8, color='black')
    ax.set_xlabel('')
    ax.set_ylabel('')
    for s in ax.spines.values():
        s.set_visible(True)
        s.set_linewidth(1.1)
        s.set_color('black')

    # small inward ticks on the right and top frame lines
    rax = ax.twinx()
    rax.set_yscale('log')
    rax.set_ylim(1e-13, 0.1)
    rax.set_yticks(y_ticks)
    rax.yaxis.set_minor_locator(LogLocator(base=10, subs=range(2, 10), numticks=100))
    rax.tick_params(which='major', direction='in', length=3, width=0.8, labelright=False)
    rax.tick_params(which='minor', direction='in', length=1.5, width=0.6)
    rax.yaxis.set_minor_formatter(NullFormatter())
    rax.spines['right'].set_linewidth(1.1)
    tax = ax.secondary_xaxis('top')
    tax.set_xticks(x_ticks)
    tax.set_xticks(x_minor_ticks, minor=True)
    tax.tick_params(which='major', direction='in', length=2.5, width=0.8, labeltop=False)
    tax.tick_params(which='minor', direction='in', length=1.5, width=0.6)

    fig.text(ylab_at[0] / W, 1 - ylab_at[1] / H, y_label, rotation=90,
             ha='center', va='center', fontsize=17, fontweight='bold')
    fig.text(xlab_at[0] / W, 1 - xlab_at[1] / H, x_label,
             ha='center', va='center', fontsize=17, fontweight='bold')

fig.savefig('out.png', dpi=100)
